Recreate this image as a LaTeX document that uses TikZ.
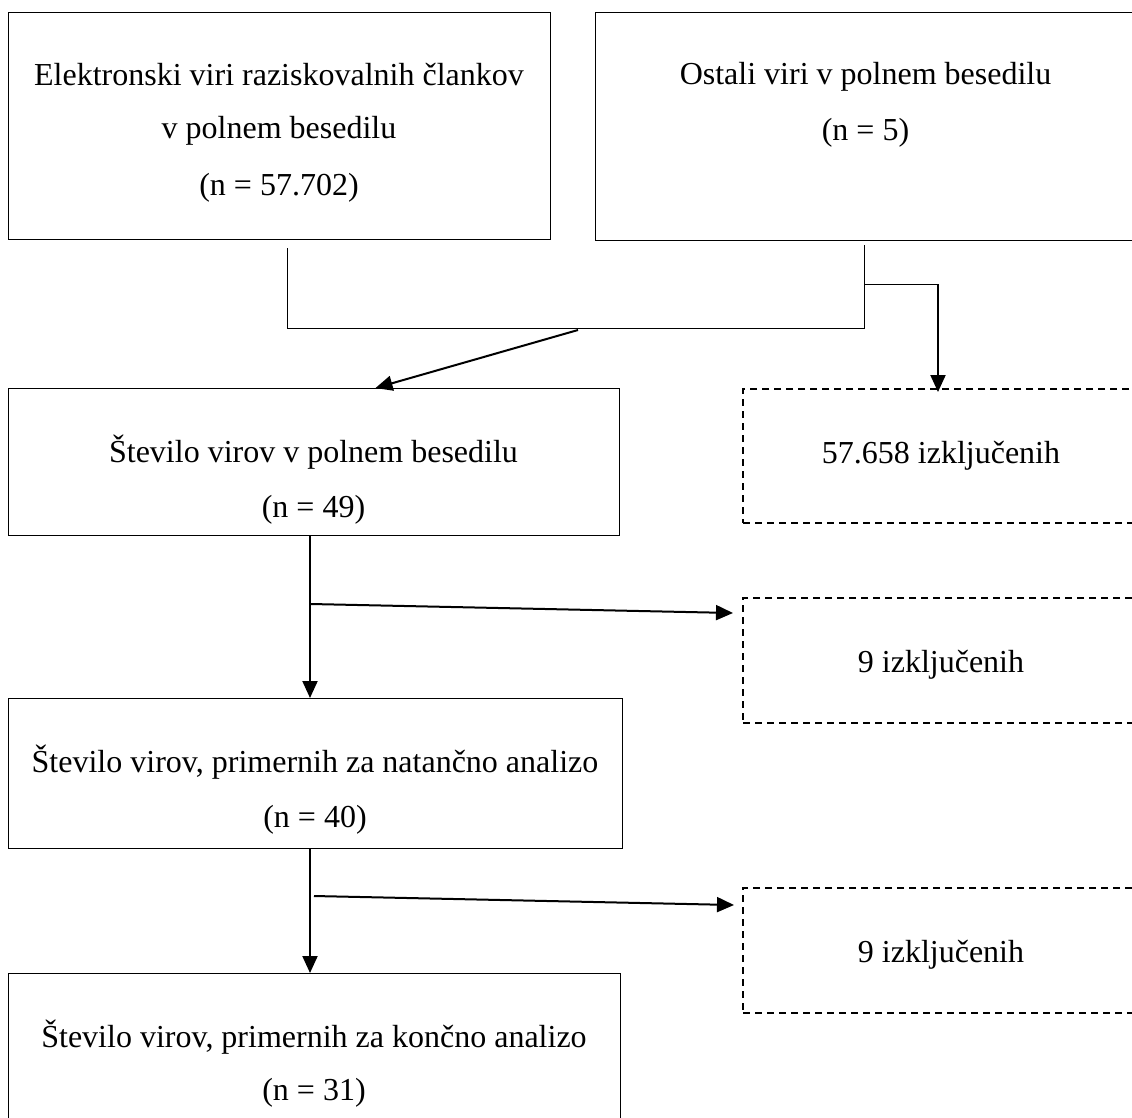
\documentclass[tikz,border=0pt]{standalone}
\usepackage{fontspec}
\setmainfont{Liberation Serif}
\usetikzlibrary{arrows.meta}
\begin{document}
\begin{tikzpicture}[x=1pt,y=-1pt,
  boxst/.style={draw, line width=1pt, anchor=north west, inner sep=0pt, outer sep=0pt},
  dbox/.style={boxst, line width=1.3pt, dash pattern=on 7pt off 5pt},
  txt/.style={font=\fontsize{32}{38}\selectfont, anchor=base, inner sep=0pt},
  thin/.style={line width=1pt},
  arr/.style={line width=2pt, -{Triangle[length=17pt,width=15pt]}}]
\useasboundingbox (0,0) rectangle (1132,1117);
% boxes
\node[boxst, minimum width=542pt, minimum height=227pt] (b1) at (8,12) {};
\node[boxst, minimum width=542pt, minimum height=228pt] (b2) at (595,12) {};
\node[boxst, minimum width=611pt, minimum height=147pt] (b3) at (8,388) {};
\node[dbox, minimum width=396pt, minimum height=134pt] (b4) at (743,389) {};
\node[dbox, minimum width=396pt, minimum height=125pt] (b5) at (743,598) {};
\node[boxst, minimum width=614pt, minimum height=150pt] (b6) at (8,698) {};
\node[dbox, minimum width=396pt, minimum height=125pt] (b7) at (743,888) {};
\node[boxst, minimum width=612pt, minimum height=170pt] (b8) at (8,973) {};
% texts
\node[txt] (t1a) at (279,85) {Elektronski viri raziskovalnih člankov};
\node[txt] (t1b) at (279,138) {v polnem besedilu};
\node[txt] (t1c) at (279,195) {(n = 57.702)};
\node[txt] (t2a) at (865.5,84) {Ostali viri v polnem besedilu};
\node[txt] (t2b) at (865.5,140) {(n = 5)};
\node[txt] (t3a) at (313.5,462) {Število virov v polnem besedilu};
\node[txt] (t3b) at (313.5,517) {(n = 49)};
\node[txt] (t4) at (941,463) {57.658 izključenih};
\node[txt] (t5) at (941,672) {9 izključenih};
\node[txt] (t6a) at (315,772) {Število virov, primernih za natančno analizo};
\node[txt] (t6b) at (315,827) {(n = 40)};
\node[txt] (t7) at (941,962) {9 izključenih};
\node[txt] (t8a) at (314,1047) {Število virov, primernih za končno analizo};
\node[txt] (t8b) at (314,1100) {(n = 31)};
% connector points
\coordinate (j1) at (287,248);
\coordinate (j2) at (287,328);
\coordinate (j3) at (864,328);
\coordinate (j4) at (864,245);
\coordinate (m1) at (578,330);
\coordinate (k1) at (865,284);
\coordinate (k2) at (938,284);
\coordinate (v1) at (310,0);
\coordinate (h1) at (311,604);
\coordinate (h2) at (314,896);
% connectors
\draw[thin] (j1) -- (j2) -- (j3) -- (j4);
\draw[arr] (m1) -- ([xshift=62pt]b3.north);
\draw[thin] (k1) -- (k2);
\draw[arr] (k2) -- ([yshift=-3pt]b4.north -| k2);
\draw[arr] (b3.south -| v1) -- (b6.north -| v1);
\draw[arr] (h1) -- ([shift={(-10pt,-15pt)}]b5.north west);
\draw[arr] (b6.south -| v1) -- (b8.north -| v1);
\draw[arr] (h2) -- ([shift={(-9pt,-17pt)}]b7.north west);
\end{tikzpicture}
\end{document}
